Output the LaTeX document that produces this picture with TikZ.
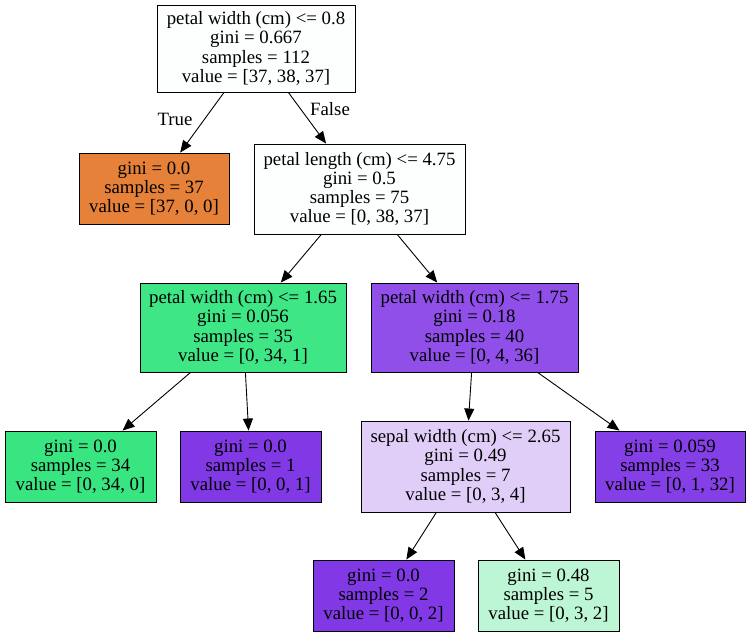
\documentclass[tikz,border=0pt]{standalone}
\usepackage{fontspec}
\setmainfont{Liberation Serif}
\usetikzlibrary{arrows.meta}
\definecolor{cRoot}{HTML}{FDFFFE}
\definecolor{cOrange}{HTML}{E58139}
\definecolor{cN3}{HTML}{FCFFFD}
\definecolor{cN4}{HTML}{3FE685}
\definecolor{cN5}{HTML}{8F4FE8}
\definecolor{cGreen}{HTML}{39E581}
\definecolor{cPurple}{HTML}{8139E5}
\definecolor{cN8}{HTML}{E0CEF8}
\definecolor{cN9}{HTML}{853FE6}
\definecolor{cN11}{HTML}{BDF6D5}
\begin{document}
\begin{tikzpicture}[x=1pt,y=-1pt,
  box/.style={draw=black, line width=0.9pt, align=center, inner sep=0pt,
    font=\fontsize{18.8}{19.2}\selectfont},
  split/.style={box, minimum height=89pt},
  leaf/.style={box, minimum height=71pt},
  lbl/.style={font=\fontsize{18.8}{19.2}\selectfont, inner sep=0pt},
  edge/.style={-{Triangle[length=12pt,width=10pt]}, line width=0.9pt}]
\useasboundingbox (0,0) rectangle (751,636);
\node[split, fill=cRoot, minimum width=198pt, minimum height=87pt] (n0) at (256,48.5)
  {petal width (cm) <= 0.8\\gini = 0.667\\samples = 112\\value = [37, 38, 37]};
\node[leaf, fill=cOrange, minimum width=150pt] (n1) at (154,188.5)
  {gini = 0.0\\samples = 37\\value = [37, 0, 0]};
\node[split, fill=cN3, minimum width=211pt, minimum height=90pt] (n2) at (359.5,189)
  {petal length (cm) <= 4.75\\gini = 0.5\\samples = 75\\value = [0, 38, 37]};
\node[split, fill=cN4, minimum width=206pt] (n3) at (243,327.5)
  {petal width (cm) <= 1.65\\gini = 0.056\\samples = 35\\value = [0, 34, 1]};
\node[split, fill=cN5, minimum width=207pt] (n4) at (474.5,327.5)
  {petal width (cm) <= 1.75\\gini = 0.18\\samples = 40\\value = [0, 4, 36]};
\node[leaf, fill=cGreen, minimum width=151pt] (n5) at (80.5,466.5)
  {gini = 0.0\\samples = 34\\value = [0, 34, 0]};
\node[leaf, fill=cPurple, minimum width=141pt] (n6) at (250.5,466.5)
  {gini = 0.0\\samples = 1\\value = [0, 0, 1]};
\node[split, fill=cN8, minimum width=209pt, minimum height=91pt] (n7) at (465.5,466.5)
  {sepal width (cm) <= 2.65\\gini = 0.49\\samples = 7\\value = [0, 3, 4]};
\node[leaf, fill=cN9, minimum width=150pt] (n8) at (670,466.5)
  {gini = 0.059\\samples = 33\\value = [0, 1, 32]};
\node[leaf, fill=cPurple, minimum width=141pt] (n9) at (383.5,595.5)
  {gini = 0.0\\samples = 2\\value = [0, 0, 2]};
\node[leaf, fill=cN11, minimum width=141pt] (n10) at (548.5,595.5)
  {gini = 0.48\\samples = 5\\value = [0, 3, 2]};
\draw[edge] (n0) -- (n1);
\draw[edge] (n0) -- (n2);
\draw[edge] (n2) -- (n3);
\draw[edge] (n2) -- (n4);
\draw[edge] (n3) -- (n5);
\draw[edge] (n3) -- (n6);
\draw[edge] (n4) -- (n7);
\draw[edge] (n4) -- (n8);
\draw[edge] (n7) -- (n9);
\draw[edge] (n7) -- (n10);
\node[lbl] (tTrue) at (175,119) {True};
\node[lbl] (tFalse) at (330,109) {False};
\end{tikzpicture}
\end{document}
